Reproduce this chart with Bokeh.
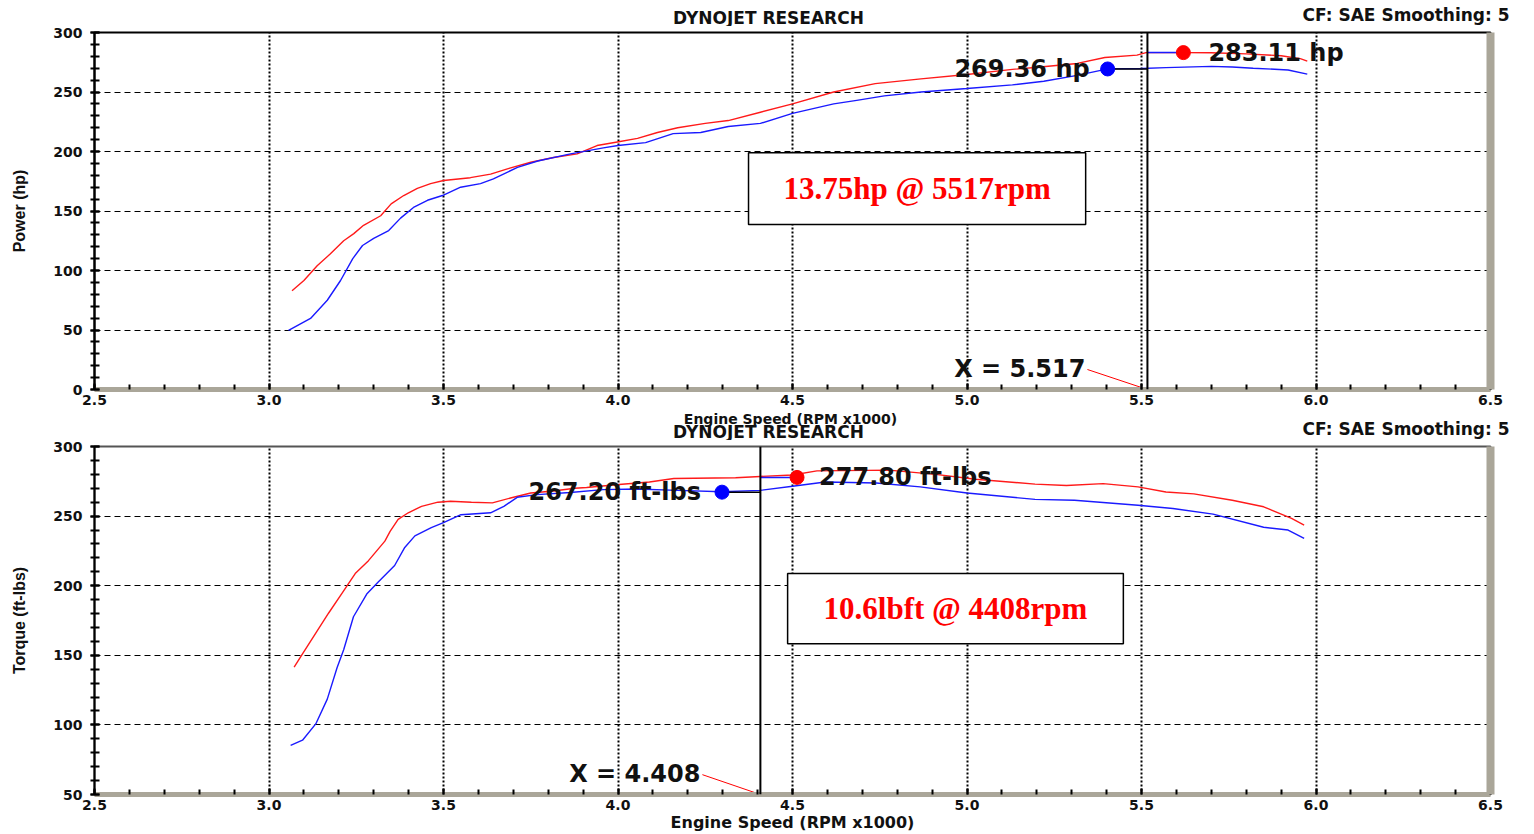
import math
from bokeh.plotting import figure
from bokeh.layouts import column, row
from bokeh.models import (Range1d, SingleIntervalTicker, PrintfTickFormatter, LinearAxis,
                          FixedTicker, Span, Label, BoxAnnotation)
from bokeh.core.properties import value
from bokeh.embed import file_html
from bokeh.resources import INLINE

# ---------------- data ----------------
x_ticks_interval = 0.5
rpm_range = (2.5, 6.5)

# Power (hp) - red run
hp_red_rpm = [3.066, 3.10, 3.138, 3.176, 3.214, 3.243, 3.271, 3.32, 3.35, 3.386, 3.425, 3.463,
              3.50, 3.577, 3.635, 3.69, 3.75, 3.815, 3.883, 3.94, 3.998, 4.056, 4.113, 4.171,
              4.25, 4.316, 4.408, 4.50, 4.618, 4.737, 4.868, 5.00, 5.13, 5.21, 5.316, 5.395,
              5.487, 5.513, 5.62, 5.70, 5.80, 5.90, 5.955, 5.975]
hp_red = [83, 91.6, 104, 114, 125, 131, 138, 146, 156, 163, 169, 173,
          175.6, 178, 181, 186, 191, 195, 198, 205, 208, 211, 216, 220,
          223.6, 226, 233, 240, 250, 257, 261, 264.7, 269, 271, 274, 279,
          281, 283.1, 283.1, 283, 282, 280.5, 278, 276]

# Power (hp) - blue run
hp_blue_rpm = [3.056, 3.119, 3.167, 3.205, 3.24, 3.268, 3.30, 3.343, 3.377, 3.414, 3.454, 3.497,
               3.549, 3.606, 3.643, 3.712, 3.77, 3.864, 3.958, 4.00, 4.079, 4.158, 4.237, 4.316,
               4.408, 4.50, 4.618, 4.684, 4.763, 4.868, 5.00, 5.13, 5.22, 5.316, 5.403, 5.50,
               5.57, 5.70, 5.76, 5.82, 5.92, 5.975]
hp_blue = [49.6, 59.7, 75, 91.6, 110, 121, 127, 133.6, 144, 153, 159, 163,
           170, 173, 177, 186.7, 192, 198, 203, 205, 207.5, 215, 216, 221,
           223.6, 232, 240, 243, 246.7, 250, 253, 256, 259, 264, 269.4, 269.8,
           270.5, 271.5, 271, 270, 268.5, 265]

# Torque (ft-lbs) - red run
tq_red_rpm = [3.072, 3.096, 3.134, 3.171, 3.209, 3.247, 3.285, 3.332, 3.347, 3.37, 3.399, 3.437,
              3.484, 3.52, 3.58, 3.64, 3.692, 3.75, 3.815, 3.876, 3.91, 3.994, 4.09, 4.16,
              4.337, 4.408, 4.50, 4.57, 4.776, 4.91, 5.025, 5.195, 5.285, 5.39, 5.49, 5.57,
              5.65, 5.76, 5.85, 5.93, 5.966]
tq_red = [141.5, 151, 166, 180.4, 194.5, 208.7, 218, 232, 239, 247.6, 252.4, 257,
          260, 260.7, 260, 259.5, 263, 266.6, 268, 270, 270.5, 272.5, 274.5, 277,
          277.5, 278.5, 279.5, 282.5, 283, 280, 276.5, 273, 272, 273.3, 271, 267.3,
          266, 261.4, 256.7, 248.3, 243.6]

# Torque (ft-lbs) - blue run
tq_blue_rpm = [3.062, 3.096, 3.134, 3.167, 3.195, 3.214, 3.242, 3.28, 3.313, 3.36, 3.389, 3.418,
               3.465, 3.50, 3.55, 3.635, 3.673, 3.711, 3.768, 3.863, 3.957, 4.052, 4.17, 4.298,
               4.408, 4.50, 4.594, 4.74, 4.866, 5.00, 5.195, 5.308, 5.49, 5.59, 5.705, 5.85,
               5.92, 5.966]
tq_blue = [85.3, 89, 100.7, 118.5, 141, 154, 177.7, 194, 202.6, 214.5, 227.5, 235.8,
           241.7, 245.3, 251, 252.4, 257, 263.5, 265.4, 267, 269, 269.5, 268.5, 267.5,
           268.5, 271.4, 274.5, 273.8, 271, 266.6, 262, 261.4, 257.8, 255.5, 251.4, 242,
           240, 234]

# cursor / markers
hp_cursor = 5.517
hp_blue_mark = (5.403, 269.36)
hp_red_mark = (5.62, 283.11)
tq_cursor = 4.408
tq_blue_mark = (4.298, 267.20)
tq_red_mark = (4.513, 277.80)

hp_blue_text = "269.36 hp"
hp_red_text = "283.11 hp"
tq_blue_text = "267.20 ft-lbs"
tq_red_text = "277.80 ft-lbs"
hp_box_text = "13.75hp @ 5517rpm"
tq_box_text = "10.6lbft @ 4408rpm"
hp_box = dict(left=4.374, right=5.34, bottom=138.7, top=199)
tq_box = dict(left=4.486, right=5.448, bottom=158.3, top=208.8)

TITLE = "DYNOJET RESEARCH"
CF_TEXT = "CF: SAE  Smoothing: 5"
XLABEL = "Engine Speed (RPM x1000)"

# ---------------- styling ----------------
RED = "#ff1a1a"
BLUE = "#1a1aff"
SHADOW = "#aaa699"
INK = "#111111"
UI_FONT = "DejaVu Sans"
PAGE_W = 1526
FRAME_W = 1396
BORDER_L = 94
BORDER_R = PAGE_W - BORDER_L - FRAME_W


def band(height, items):
    """A strip of plain text above / between the two charts (x, y in page pixels)."""
    b = figure(width=PAGE_W, height=height, x_range=Range1d(0, PAGE_W),
               y_range=Range1d(height, 0), output_backend="svg", toolbar_location=None,
               tools="", min_border=0, min_border_left=0, min_border_right=0,
               min_border_top=0, min_border_bottom=0, x_axis_type=None, y_axis_type=None)
    b.outline_line_color = None
    b.background_fill_color = "white"
    b.border_fill_color = "white"
    for (tx, ty, txt, align, size) in items:
        b.text(x=[tx], y=[ty], text=[txt], text_font=value(UI_FONT), text_font_style="bold",
               text_font_size=size, text_align=align, text_baseline="middle",
               text_color=INK)
    return row(b)


def make_panel(height, top_border, bottom_border, y_start, y_end, ylabel, outline, xlabel=None):
    p = figure(width=PAGE_W, height=height, x_range=Range1d(*rpm_range),
               y_range=Range1d(y_start, y_end), output_backend="svg",
               toolbar_location=None, tools="",
               min_border_left=BORDER_L, min_border_right=BORDER_R,
               min_border_top=top_border, min_border_bottom=bottom_border)
    p.background_fill_color = "white"
    p.border_fill_color = "white"
    p.outline_line_color = outline
    p.outline_line_width = 2

    xt = SingleIntervalTicker(interval=x_ticks_interval, num_minor_ticks=5)
    yt = SingleIntervalTicker(interval=50, num_minor_ticks=5)
    p.xaxis.ticker = xt
    p.yaxis.ticker = yt
    p.xgrid.ticker = xt
    p.ygrid.ticker = yt
    p.xaxis.formatter = PrintfTickFormatter(format="%.1f")

    for ax in (p.xaxis, p.yaxis):
        ax.major_label_text_font = UI_FONT
        ax.major_label_text_font_style = "bold"
        ax.major_label_text_font_size = "14px"
        ax.major_label_text_color = INK
        ax.major_tick_line_color = "black"
        ax.minor_tick_line_color = "black"
        ax.major_tick_line_width = 2
        ax.minor_tick_line_width = 2

    p.xaxis.axis_line_color = SHADOW
    p.xaxis.axis_line_width = 5
    p.xaxis.major_tick_in = 6
    p.xaxis.major_tick_out = 0
    p.xaxis.minor_tick_in = 5
    p.xaxis.minor_tick_out = 0
    p.xaxis.major_label_standoff = 5
    if xlabel:
        p.xaxis.axis_label = xlabel
        p.xaxis.axis_label_text_font = UI_FONT
        p.xaxis.axis_label_text_font_style = "bold"
        p.xaxis.axis_label_text_font_size = "16px"
        p.xaxis.axis_label_text_color = INK
        p.xaxis.axis_label_standoff = 0

    p.yaxis.axis_line_color = "black"
    p.yaxis.axis_line_width = 2
    p.yaxis.major_tick_in = 5
    p.yaxis.major_tick_out = 4
    p.yaxis.minor_tick_in = 5
    p.yaxis.minor_tick_out = 4
    p.yaxis.major_label_standoff = 8
    p.yaxis.axis_label = ylabel
    p.yaxis.axis_label_text_font = "Liberation Sans"
    p.yaxis.axis_label_text_font_style = "bold"
    p.yaxis.axis_label_text_font_size = "16px"
    p.yaxis.axis_label_text_color = INK
    p.yaxis.axis_label_standoff = 22

    right = LinearAxis(ticker=FixedTicker(ticks=[]), axis_line_color=SHADOW,
                       axis_line_width=8, major_tick_line_color=None,
                       minor_tick_line_color=None, major_label_text_color=None)
    p.add_layout(right, "right")

    p.xgrid.grid_line_color = "black"
    p.xgrid.grid_line_dash = "2 2"
    p.xgrid.grid_line_width = 2
    p.ygrid.grid_line_color = "black"
    p.ygrid.grid_line_dash = "6 4"
    p.ygrid.grid_line_width = 1
    return p


def decorate(p, cursor, blue_mark, red_mark, blue_text, red_text, box, box_text,
             y_start, y_end, blue_off, red_off, x_text_off, frame_h):
    du = (rpm_range[1] - rpm_range[0]) / FRAME_W
    dv = (y_end - y_start) / frame_h
    p.add_layout(Span(location=cursor, dimension="height", line_color="black", line_width=2))
    p.segment(x0=[blue_mark[0]], y0=[blue_mark[1]], x1=[cursor], y1=[blue_mark[1]],
              line_color="black", line_width=1.5)
    p.segment(x0=[cursor], y0=[red_mark[1]], x1=[red_mark[0]], y1=[red_mark[1]],
              line_color=BLUE, line_width=1.5)
    p.scatter([blue_mark[0]], [blue_mark[1]], size=14, color="#0000ff")
    p.scatter([red_mark[0]], [red_mark[1]], size=14, color="#ff0000")
    p.add_layout(Label(x=blue_mark[0], y=blue_mark[1], x_offset=blue_off, text=blue_text,
                       text_font=UI_FONT, text_font_style="bold", text_font_size="24px",
                       text_align="right", text_baseline="middle", text_color=INK))
    p.add_layout(Label(x=red_mark[0], y=red_mark[1], x_offset=red_off, text=red_text,
                       text_font=UI_FONT, text_font_style="bold", text_font_size="24px",
                       text_align="left", text_baseline="middle", text_color=INK))
    p.add_layout(Label(x=cursor, y=y_start, x_offset=x_text_off, y_offset=20.5,
                       text="X = %.3f" % cursor, text_font=UI_FONT, text_font_style="bold",
                       text_font_size="24px", text_align="right", text_baseline="middle",
                       text_color=INK))
    p.segment(x0=[cursor + (x_text_off + 2) * du], y0=[y_start + 20 * dv], x1=[cursor],
              y1=[y_start], line_color="#ff0000", line_width=1)
    p.add_layout(BoxAnnotation(left=box["left"], right=box["right"], bottom=box["bottom"],
                               top=box["top"], fill_color="white", fill_alpha=1.0,
                               line_color="black", line_width=1.5, line_alpha=1.0))
    p.add_layout(Label(x=(box["left"] + box["right"]) / 2, y=(box["bottom"] + box["top"]) / 2,
                       text=box_text, text_font="Liberation Serif", text_font_style="bold",
                       text_font_size="31px", text_align="center", text_baseline="middle",
                       text_color="#ff0000"))


# ---------------- heading strip ----------------
band1 = band(26, [(768, 17, TITLE, "center", "17px"), (1515, 14, CF_TEXT, "right", "17px")])

# ---------------- top: power ----------------
top = make_panel(384, 6, 21, 0, 300, "Power (hp)", "black")
top.line(hp_red_rpm, hp_red, line_color=RED, line_width=1.4)
top.line(hp_blue_rpm, hp_blue, line_color=BLUE, line_width=1.4)
decorate(top, hp_cursor, hp_blue_mark, hp_red_mark, hp_blue_text, hp_red_text,
         hp_box, hp_box_text, 0, 300, -18, 25, -62, 357)

# ---------------- strip between charts ----------------
band2 = band(30, [(790, 8.6, XLABEL, "center", "14px"), (768, 21, TITLE, "center", "17px"),
                  (1515, 18, CF_TEXT, "right", "17px")])

# ---------------- bottom: torque ----------------
bot = make_panel(394, 6, 37, 50, 300, "Torque (ft-lbs)", "#555555", xlabel=XLABEL)
bot.line(tq_red_rpm, tq_red, line_color=RED, line_width=1.4)
bot.line(tq_blue_rpm, tq_blue, line_color=BLUE, line_width=1.4)
decorate(bot, tq_cursor, tq_blue_mark, tq_red_mark, tq_blue_text, tq_red_text,
         tq_box, tq_box_text, 50, 300, -21, 22, -60, 351)

layout = column(band1, top, band2, bot, spacing=0)
open("out.html", "w").write(file_html(layout, INLINE))
